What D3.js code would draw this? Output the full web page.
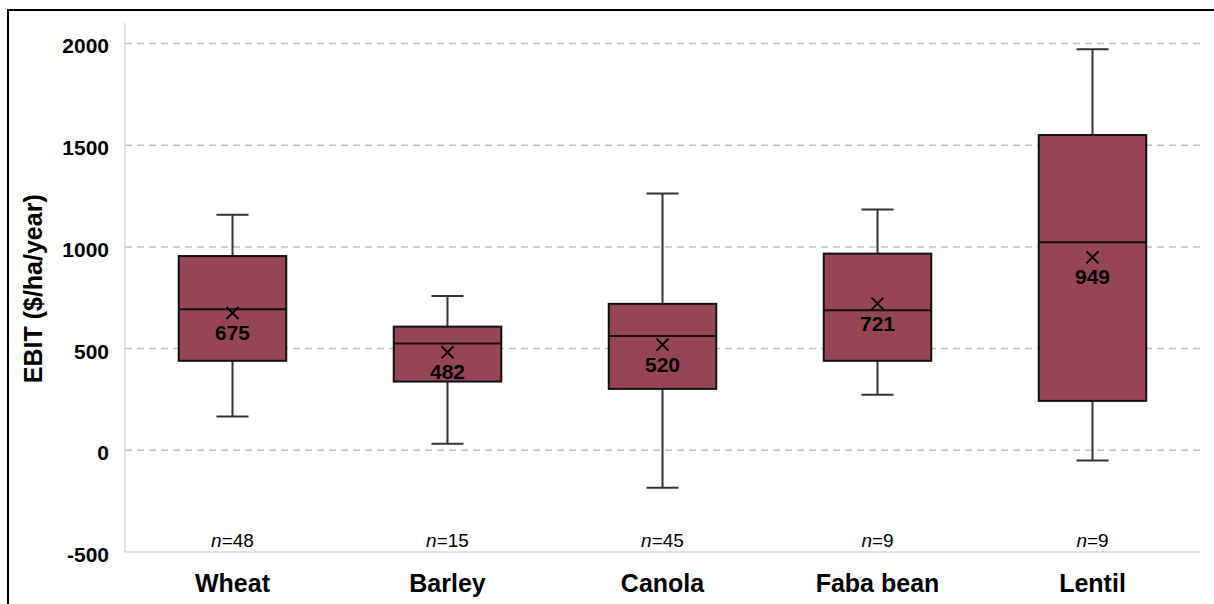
<!DOCTYPE html>
<html>
<head>
<meta charset="utf-8">
<script src="https://cdn.jsdelivr.net/npm/d3@7"></script>
<style>
  html, body { margin: 0; padding: 0; background: #fff; }
  svg { display: block; font-family: "Liberation Sans", Arial, sans-serif; }
</style>
</head>
<body>
<svg id="chart" width="1214" height="604"></svg>
<script>
const categories = ["Wheat", "Barley", "Canola", "Faba bean", "Lentil"];
const whiskerLow = [166, 32, -184, 273, -50];
const q1 = [440, 338, 302, 440, 243];
const medians = [693, 525, 562, 688, 1023];
const q3 = [955, 608, 720, 967, 1550];
const whiskerHigh = [1158, 759, 1262, 1184, 1972];
const means = [675, 482, 520, 721, 949];
const counts = [48, 15, 45, 9, 9];
const yTicks = [-500, 0, 500, 1000, 1500, 2000];

const data = categories.map((c, i) => ({
  cat: c, lo: whiskerLow[i], q1: q1[i], med: medians[i], q3: q3[i],
  hi: whiskerHigh[i], mean: means[i], n: counts[i]
}));

const svg = d3.select("#chart");
const plotLeft = 125, plotRight = 1200, plotTop = 43.5, plotBottom = 552;

const x = d3.scaleBand().domain(categories).range([plotLeft, plotRight]).padding(0);
const y = d3.scaleLinear().domain([-500, 2000]).range([plotBottom, plotTop]);

// outer frame
svg.append("rect").attr("x", 8).attr("y", 10).attr("width", 1240).attr("height", 640)
  .attr("fill", "none").attr("stroke", "#000").attr("stroke-width", 2);

// gridlines
svg.append("g").selectAll("line").data(yTicks.filter(t => t > -500)).join("line")
  .attr("x1", plotLeft).attr("x2", plotRight)
  .attr("y1", d => y(d)).attr("y2", d => y(d))
  .attr("stroke", "#bfbfbf").attr("stroke-width", 1.5).attr("stroke-dasharray", "7,5");

// y axis
const yAxis = d3.axisLeft(y).tickValues(yTicks).tickFormat(d => String(d)).tickSize(0).tickPadding(16);
const gy = svg.append("g").attr("transform", `translate(${plotLeft},0)`).call(yAxis);
gy.select(".domain").remove();
gy.selectAll("text").attr("font-size", 21).attr("font-weight", "bold")
  .attr("fill", "#000").attr("font-family", "Liberation Sans, Arial, sans-serif")
  .attr("dy", "0.45em");
svg.append("line").attr("x1", plotLeft).attr("x2", plotLeft).attr("y1", 23).attr("y2", plotBottom)
  .attr("stroke", "#d9d9d9").attr("stroke-width", 1.5);

// x axis
const xAxis = d3.axisBottom(x).tickSize(0).tickPadding(22);
const gx = svg.append("g").attr("transform", `translate(0,${plotBottom})`).call(xAxis);
gx.select(".domain").remove();
gx.selectAll("text").attr("font-size", 25).attr("font-weight", "bold")
  .attr("fill", "#000").attr("font-family", "Liberation Sans, Arial, sans-serif")
  .attr("dy", "0.71em");
svg.append("line").attr("x1", plotLeft).attr("x2", plotRight).attr("y1", plotBottom).attr("y2", plotBottom)
  .attr("stroke", "#d9d9d9").attr("stroke-width", 1.5);

// y title
svg.append("text")
  .attr("transform", `translate(42,${(plotTop + plotBottom) / 2 - 9}) rotate(-90)`)
  .attr("text-anchor", "middle").attr("font-size", 25).attr("font-weight", "bold")
  .text("EBIT ($/ha/year)");

const boxW = x.bandwidth() * 0.5;
const capW = 32;
const g = svg.append("g").selectAll("g").data(data).join("g")
  .attr("transform", d => `translate(${x(d.cat) + x.bandwidth() / 2},0)`);

// whiskers
g.append("line").attr("x1", 0).attr("x2", 0).attr("y1", d => y(d.hi)).attr("y2", d => y(d.q3))
  .attr("stroke", "#333").attr("stroke-width", 2);
g.append("line").attr("x1", 0).attr("x2", 0).attr("y1", d => y(d.q1)).attr("y2", d => y(d.lo))
  .attr("stroke", "#333").attr("stroke-width", 2);
g.append("line").attr("x1", -capW / 2).attr("x2", capW / 2).attr("y1", d => y(d.hi)).attr("y2", d => y(d.hi))
  .attr("stroke", "#333").attr("stroke-width", 2);
g.append("line").attr("x1", -capW / 2).attr("x2", capW / 2).attr("y1", d => y(d.lo)).attr("y2", d => y(d.lo))
  .attr("stroke", "#333").attr("stroke-width", 2);

// box
g.append("rect").attr("x", -boxW / 2).attr("width", boxW)
  .attr("y", d => y(d.q3)).attr("height", d => y(d.q1) - y(d.q3))
  .attr("fill", "#964654").attr("stroke", "#111").attr("stroke-width", 2);
// median
g.append("line").attr("x1", -boxW / 2).attr("x2", boxW / 2)
  .attr("y1", d => y(d.med)).attr("y2", d => y(d.med))
  .attr("stroke", "#111").attr("stroke-width", 2);

// mean marker (X)
const ms = 6;
g.append("path")
  .attr("d", d => `M${-ms},${y(d.mean) - ms}L${ms},${y(d.mean) + ms}M${-ms},${y(d.mean) + ms}L${ms},${y(d.mean) - ms}`)
  .attr("stroke", "#000").attr("stroke-width", 1.8).attr("fill", "none");
// mean label
g.append("text").attr("x", 0).attr("y", d => y(d.mean) + 27)
  .attr("text-anchor", "middle").attr("font-size", 21).attr("font-weight", "bold")
  .text(d => d.mean);

// n labels
const nt = g.append("text").attr("x", 0).attr("y", 547)
  .attr("text-anchor", "middle").attr("font-size", 19);
nt.append("tspan").attr("font-style", "italic").text("n");
nt.append("tspan").text(d => "=" + d.n);
</script>
</body>
</html>
